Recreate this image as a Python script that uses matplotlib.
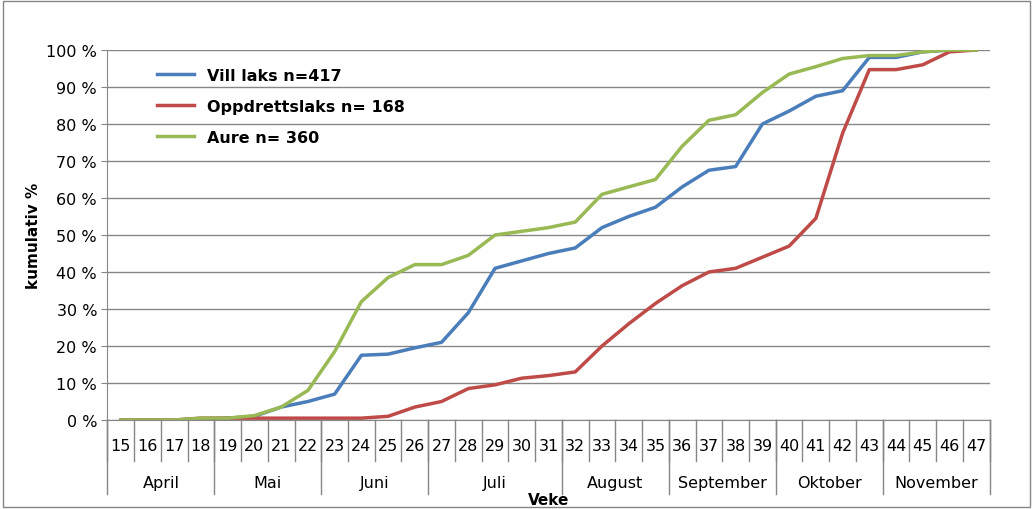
import numpy as np
import matplotlib.pyplot as plt
from matplotlib.lines import Line2D

weeks = list(range(15, 48))
vill = [0, 0, 0, 0.3, 0.5, 1, 3.5, 5, 7, 17.5, 17.8, 19.5, 21, 29, 41, 43, 45, 46.5,
        52, 55, 57.5, 63, 67.5, 68.5, 80, 83.5, 87.5, 89, 98, 98, 99.5, 100, 100]
oppdrett = [0, 0, 0, 0.5, 0.5, 0.5, 0.5, 0.5, 0.5, 0.5, 1, 3.5, 5, 8.5, 9.5, 11.3, 12, 13,
            20, 26, 31.5, 36.3, 40, 41, 44, 47, 54.5, 77.5, 94.7, 94.7, 96, 99.5, 100]
aure = [0, 0, 0, 0.5, 0.5, 1.2, 3.5, 8, 18.5, 32, 38.5, 42, 42, 44.5, 50, 51, 52, 53.5,
        61, 63, 65, 74, 81, 82.5, 88.5, 93.5, 95.5, 97.7, 98.5, 98.5, 99.5, 100, 100]
months = ['April', 'Mai', 'Juni', 'Juli', 'August', 'September', 'Oktober', 'November']
month_len = [4, 4, 4, 5, 4, 4, 4, 4]

fig = plt.figure(figsize=(10.33, 5.1), dpi=100)
ax = fig.add_axes([0.104, 0.1745, 0.854, 0.7255])
x = np.arange(len(weeks))
ax.plot(x, vill, color='#4a7ebb', lw=2.5, label='Vill laks n=417')
ax.plot(x, oppdrett, color='#be4b48', lw=2.5, label='Oppdrettslaks n= 168')
ax.plot(x, aure, color='#98b954', lw=2.5, label='Aure n= 360')

ax.set_xlim(-0.5, len(weeks) - 0.5)
ax.set_ylim(0, 100)
ax.set_yticks(range(0, 101, 10))
ax.set_yticklabels([f'{v} %' for v in range(0, 101, 10)], fontsize=11.5)
ax.yaxis.grid(True, color='#868686', lw=1)
ax.set_axisbelow(True)
for s in ['top', 'right']:
    ax.spines[s].set_visible(False)
ax.spines['left'].set_color('#868686')
ax.spines['bottom'].set_color('#868686')
ax.tick_params(axis='y', length=4, color='#868686')
ax.set_xticks([])
ax.set_ylabel('kumulativ %', fontsize=11, fontweight='bold')

# two-level category axis
trans = ax.get_xaxis_transform()
for i, w in enumerate(weeks):
    ax.text(i, -0.07, str(w), transform=trans, ha='center', va='center', fontsize=11.5)
for i in range(len(weeks) + 1):
    ax.add_line(Line2D([i - 0.5, i - 0.5], [0, -0.11], transform=trans, color='#868686', lw=1, clip_on=False))
start = 0
for m, n in zip(months, month_len):
    ax.text(start + n / 2 - 0.5, -0.17, m, transform=trans, ha='center', va='center', fontsize=11.5)
    start += n
    ax.add_line(Line2D([start - 0.5, start - 0.5], [0, -0.2], transform=trans, color='#868686', lw=1, clip_on=False))
ax.add_line(Line2D([-0.5, -0.5], [0, -0.2], transform=trans, color='#868686', lw=1, clip_on=False))
ax.text(0.5, -0.215, 'Veke', transform=ax.transAxes, ha='center', va='center', fontsize=11, fontweight='bold')

ax.legend(loc='upper left', bbox_to_anchor=(0.04, 0.99), frameon=False, fontsize=11.5,
          prop={'weight': 'bold', 'size': 11.5}, handlelength=2.3, labelspacing=1.0)

fig.patches.append(plt.Rectangle((0.003, 0.003), 0.994, 0.994, transform=fig.transFigure,
                                 fill=False, edgecolor='#868686', lw=1))
fig.savefig('out.png', dpi=100)
